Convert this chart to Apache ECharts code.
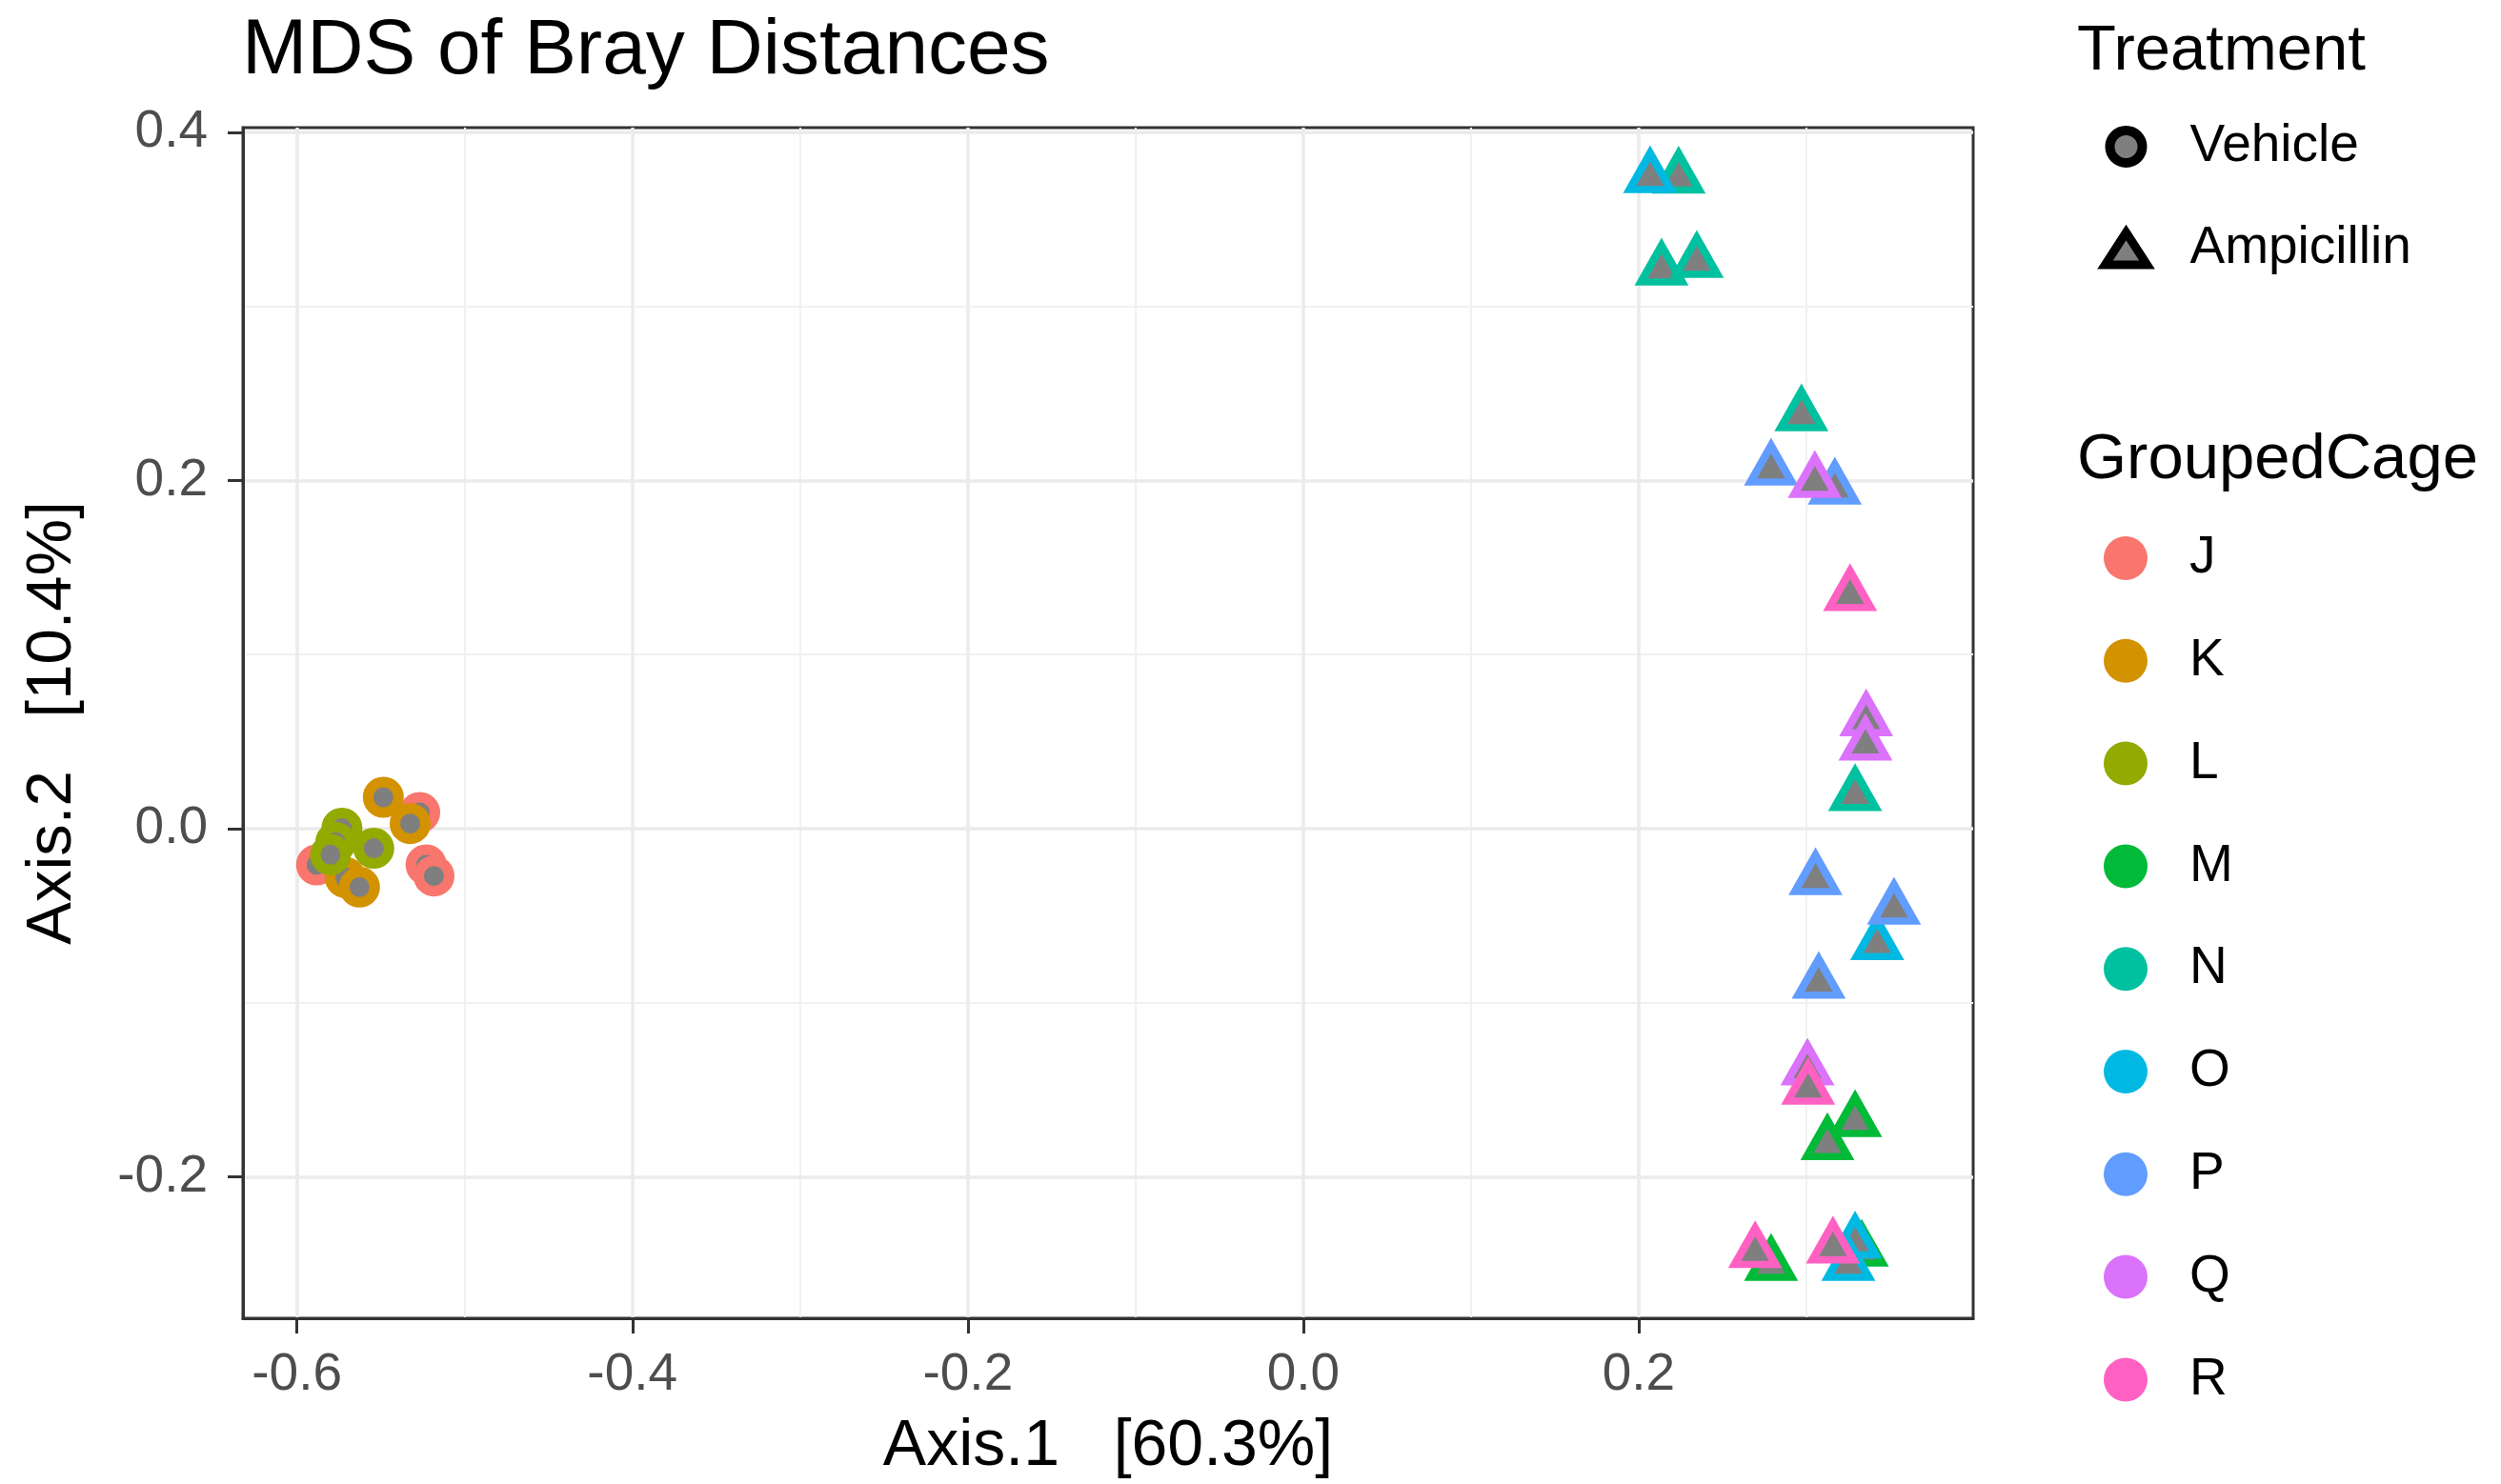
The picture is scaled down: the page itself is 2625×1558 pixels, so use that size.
<!DOCTYPE html>
<html>
<head>
<meta charset="utf-8">
<script src="https://cdn.jsdelivr.net/npm/echarts@6/dist/echarts.min.js"></script>
<style>
html,body{margin:0;padding:0;background:#fff;}
#chart{width:2625px;height:1558px;}
</style>
</head>
<body>
<div id="chart"></div>
<script>
// ---- data ----
const cages = ['J','K','L','M','N','O','P','Q','R'];
const cageColors = ['#F8766D','#D39200','#93AA00','#00BA38','#00C19F','#00B9E3','#619CFF','#DB72FB','#FF61C3'];
const treatments = ['Vehicle','Ampicillin'];
const cageTreatment = ['Vehicle','Vehicle','Vehicle','Ampicillin','Ampicillin','Ampicillin','Ampicillin','Ampicillin','Ampicillin'];

const J = [[-0.5268,0.0093],[-0.5230,-0.0208],[-0.5183,-0.0272],[-0.5883,-0.0208]];
const K = [[-0.5485,0.0180],[-0.5325,0.0029],[-0.5712,-0.0281],[-0.5627,-0.0336]];
const L = [[-0.5732,0.0002],[-0.5769,-0.0080],[-0.5800,-0.0150],[-0.5542,-0.0113]];
const M = [[0.3290,-0.1680],[0.3125,-0.1813],[0.2789,-0.2506],[0.3330,-0.2425]];
const N = [[0.2238,0.3740],[0.2136,0.3212],[0.2346,0.3256],[0.2970,0.2375],[0.3290,0.0193]];
const O = [[0.2068,0.3743],[0.3422,-0.0664],[0.3290,-0.2378],[0.3250,-0.2506]];
const P = [[0.2789,0.2063],[0.3169,0.1953],[0.3054,-0.0290],[0.3522,-0.0460],[0.3073,-0.0886]];
const Q = [[0.3050,0.1992],[0.3356,0.0622],[0.3352,0.0482],[0.3006,-0.1384]];
const R = [[0.3260,0.1342],[0.3010,-0.1494],[0.2694,-0.2433],[0.3158,-0.2406]];
const cageData = [J,K,L,M,N,O,P,Q,R];

const xMin = -0.6322, xMax = 0.3994;
const yMin = -0.2813, yMax = 0.4027;
const xMajor = [-0.6,-0.4,-0.2,0.0,0.2];
const xMinor = [-0.5,-0.3,-0.1,0.1,0.3];
const yMajor = [-0.2,0.0,0.2,0.4];
const yMinor = [-0.1,0.1,0.3];

// ---- styling ----
const FONT = 'Liberation Sans';
const GRAY = '#7f7f7f';
const circleStyle = {size: 32, border: 11};
const triStyle = {size: [43, 38], border: 8};

const series = cages.map((c, i) => {
  const isTri = cageTreatment[i] === 'Ampicillin';
  return {
    name: c,
    type: 'scatter',
    xAxisIndex: 0, yAxisIndex: 0,
    data: cageData[i],
    symbol: isTri ? 'triangle' : 'circle',
    symbolSize: isTri ? triStyle.size : circleStyle.size,
    symbolOffset: isTri ? [0, -6] : [0, 0],
    itemStyle: {
      color: GRAY, borderColor: cageColors[i],
      borderWidth: isTri ? triStyle.border : circleStyle.border,
      borderJoin: 'miter', opacity: 1
    },
    emphasis: {disabled: true},
    z: 3
  };
});
treatments.forEach((t, i) => {
  series.push({
    name: t, type: 'scatter', data: [],
    symbol: i === 0 ? 'circle' : 'triangle',
    itemStyle: {color: GRAY, borderColor: '#000', borderWidth: 10, opacity: 1}
  });
});

const chart = echarts.init(document.getElementById('chart'), null, {renderer: 'canvas'});
chart.setOption({
  animation: false,
  backgroundColor: '#fff',
  textStyle: {fontFamily: FONT},
  title: [
    {text: 'MDS of Bray Distances', left: 254, top: 13, padding: 0,
     textStyle: {fontFamily: FONT, fontSize: 82, lineHeight: 82, fontWeight: 'normal', color: '#000'}},
    {text: 'Treatment', left: 2180, top: 21, padding: 0,
     textStyle: {fontFamily: FONT, fontSize: 67, lineHeight: 67, fontWeight: 'normal', color: '#000'}},
    {text: 'GroupedCage', left: 2180, top: 450, padding: 0,
     textStyle: {fontFamily: FONT, fontSize: 67, lineHeight: 67, fontWeight: 'normal', color: '#000'}}
  ],
  legend: [
    {
      orient: 'vertical', left: 2205, top: 124, padding: 0,
      itemWidth: 44, itemHeight: 34, itemGap: 47, selectedMode: false,
      data: [
        {name: 'Vehicle', icon: 'circle', itemStyle: {color: GRAY, borderColor: '#000', borderWidth: 10}},
        {name: 'Ampicillin', icon: 'triangle', itemStyle: {color: GRAY, borderColor: '#000', borderWidth: 9}}
      ],
      textStyle: {fontFamily: FONT, fontSize: 55, lineHeight: 60, color: '#000', padding: [0,0,0,40]}
    },
    {
      orient: 'vertical', left: 2208, top: 556, padding: 0,
      itemWidth: 46, itemHeight: 46, itemGap: 47.8, selectedMode: false,
      data: cages.map((c, i) => ({name: c, icon: 'circle', itemStyle: {color: cageColors[i], borderWidth: 0}})),
      textStyle: {fontFamily: FONT, fontSize: 55, lineHeight: 60, color: '#000', padding: [0,0,0,39]}
    }
  ],
  grid: {left: 255, top: 134, width: 1816, height: 1252, show: true,
         borderColor: '#333', borderWidth: 3, backgroundColor: 'transparent', containLabel: false},
  xAxis: [
    {
      type: 'value', min: xMin, max: xMax, position: 'bottom',
      name: 'Axis.1   [60.3%]', nameLocation: 'middle', nameGap: 101,
      nameTextStyle: {fontFamily: FONT, fontSize: 68, color: '#000'},
      axisLine: {show: true, onZero: false, lineStyle: {color: '#333', width: 3}},
      axisTick: {show: true, length: 16, customValues: xMajor, lineStyle: {color: '#333', width: 3}},
      axisLabel: {show: true, customValues: xMajor, margin: 32, fontFamily: FONT, fontSize: 55, color: '#4d4d4d',
                  formatter: v => v.toFixed(1)},
      splitLine: {show: true, lineStyle: {color: '#ebebeb', width: 3.5}},
      z: 1
    },
    {
      type: 'value', min: xMin, max: xMax, position: 'top',
      axisLine: {show: false}, axisLabel: {show: false},
      axisTick: {show: false, customValues: xMinor},
      splitLine: {show: true, lineStyle: {color: '#f1f1f1', width: 2}},
      z: 0
    }
  ],
  yAxis: [
    {
      type: 'value', min: yMin, max: yMax, position: 'left',
      name: 'Axis.2   [10.4%]', nameLocation: 'middle', nameGap: 166,
      nameTextStyle: {fontFamily: FONT, fontSize: 67, color: '#000'},
      axisLine: {show: true, onZero: false, lineStyle: {color: '#333', width: 3}},
      axisTick: {show: true, length: 16, customValues: yMajor, lineStyle: {color: '#333', width: 3}},
      axisLabel: {show: true, customValues: yMajor, margin: 37, fontFamily: FONT, fontSize: 55, color: '#4d4d4d',
                  formatter: v => v.toFixed(1)},
      splitLine: {show: true, lineStyle: {color: '#ebebeb', width: 3.5}},
      z: 1
    },
    {
      type: 'value', min: yMin, max: yMax, position: 'right',
      axisLine: {show: false}, axisLabel: {show: false},
      axisTick: {show: false, customValues: yMinor},
      splitLine: {show: true, lineStyle: {color: '#f1f1f1', width: 2}},
      z: 0
    }
  ],
  series: series
});
</script>
</body>
</html>
